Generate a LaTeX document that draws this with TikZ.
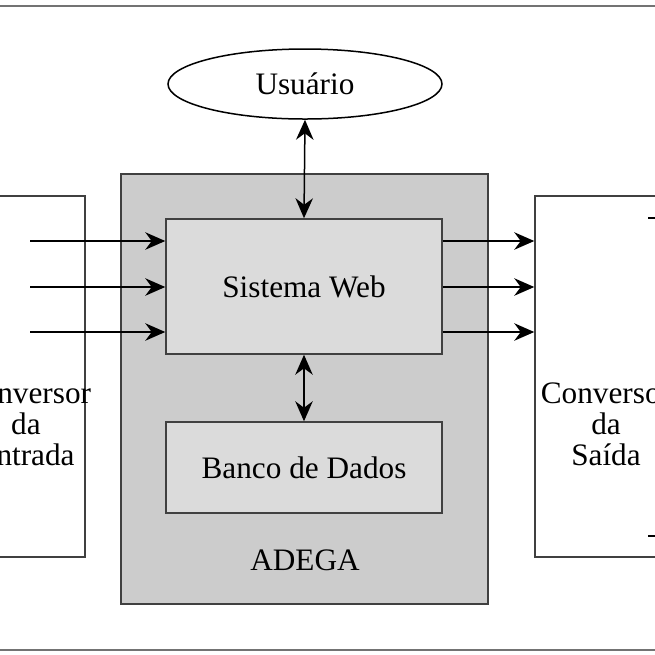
\documentclass[tikz,border=0pt]{standalone}
\usepackage{fontspec}
\setmainfont{Liberation Serif}
\usetikzlibrary{arrows.meta,shapes.geometric}
\tikzset{
  bloco/.style={draw=black!75,line width=0.6pt,inner sep=0pt,align=center},
  rotulo/.style={align=center,inner sep=0pt,font=\fontsize{12.5}{12.4}\selectfont},
  seta/.style={-{Stealth[length=8pt,width=7pt]},line width=0.6pt},
  dupla/.style={{Stealth[length=8pt,width=7pt]}-{Stealth[length=8pt,width=7pt]},line width=0.6pt}
}
\begin{document}
\begin{tikzpicture}[x=0.4pt,y=-0.4pt,font=\fontsize{12.5}{14}\selectfont]
\useasboundingbox (0,0) rectangle (655,655);
\draw[black!55,line width=0.6pt] (-10,6) rectangle (665,650);

\node[bloco,minimum width=36pt,minimum height=144.4pt] (entrada) at (40,376.5) {};
\node[rotulo] (entradatxt) at (26,424) {Conversor\\da\\Entrada};
\node[bloco,minimum width=52pt,minimum height=144.4pt] (saida) at (600,376.5) {};
\node[rotulo] (saidatxt) at (606,424) {Conversor\\da\\Saída};
\node[bloco,fill=black!20,minimum width=146.8pt,minimum height=172pt] (adega) at (304.5,389) {};
\node at (305,560) {ADEGA};
\node[bloco,fill=black!14,minimum width=110.4pt,minimum height=54pt] (web) at (304,286.5) {Sistema Web};
\node[bloco,fill=black!14,minimum width=110.4pt,minimum height=36.4pt] (banco) at (304,467.5) {Banco de Dados};
\node[draw,ellipse,line width=0.6pt,minimum width=109.6pt,minimum height=28pt] (usuario) at (305,84) {Usuário};

\coordinate (t1) at (648,218);
\coordinate (t2) at (648,536);
\draw[line width=0.6pt] (t1) -- ++(10,0);
\draw[line width=0.6pt] (t2) -- ++(10,0);

\draw[dupla] (usuario.south) -- (web.north);
\draw[dupla] (web.south) -- (banco.north);

\foreach \y in {241,287,332}{
  \coordinate (e\y) at (30,\y);
  \draw[seta] (e\y) -- (web.west |- e\y);
  \draw[seta] (web.east |- e\y) -- (saida.west |- e\y);
}
\end{tikzpicture}
\end{document}
